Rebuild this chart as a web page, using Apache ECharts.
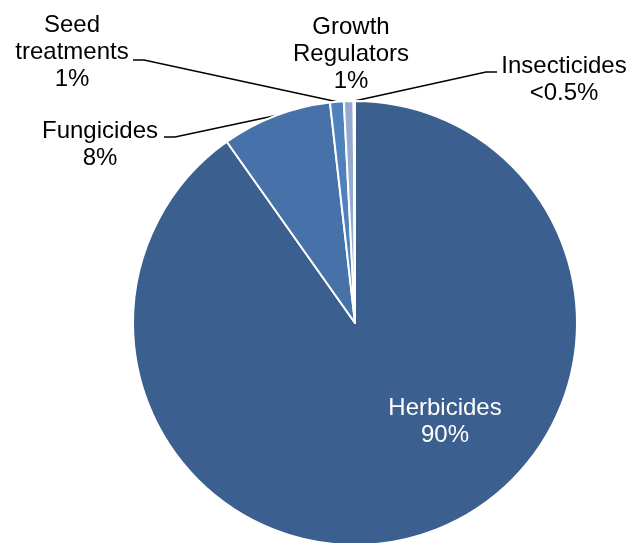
<!DOCTYPE html>
<html>
<head>
<meta charset="utf-8">
<script src="https://cdn.jsdelivr.net/npm/echarts@6/dist/echarts.min.js"></script>
<style>
html,body{margin:0;padding:0;background:#fff;}
#main{width:630px;height:543px;}
</style>
</head>
<body>
<div id="main"></div>
<script>
// ---- data ----
var categories = ['Herbicides', 'Fungicides', 'Seed treatments', 'Growth Regulators', 'Insecticides'];
var values = [90.2, 8.0, 1.0, 0.7, 0.1];
var labelTexts = ['Herbicides\n90%', 'Fungicides\n8%', 'Seed\ntreatments\n1%', 'Growth\nRegulators\n1%', 'Insecticides\n<0.5%'];

// ---- styles / layout ----
var colors = ['#3B5F8E', '#4672A9', '#4F81BD', '#95A9D1', '#B9C6E1'];
var labelPos = [
  {x: 445, y: 422},
  {x: 100, y: 145},
  {x: 72, y: 52},
  {x: 351, y: 54},
  {x: 564, y: 80}
];
// leader line: bend point then end point (null = no line)
var leader = [
  null,
  [[175, 137], [164, 137]],
  [[144, 60], [133, 60]],
  null,
  [[486, 72], [497, 72]]
];

var chart = echarts.init(document.getElementById('main'), null, {renderer: 'canvas'});
var data = categories.map(function (c, i) {
  var item = {
    name: c,
    value: values[i],
    itemStyle: {color: colors[i]},
    label: {formatter: labelTexts[i]},
    labelLine: {show: leader[i] !== null}
  };
  if (i === 0) {
    item.label.position = 'inside';
    item.label.color = '#FFFFFF';
  }
  return item;
});

chart.setOption({
  animation: false,
  backgroundColor: '#FFFFFF',
  series: [{
    type: 'pie',
    center: [355, 323],
    radius: [0, 222],
    startAngle: 90,
    clockwise: true,
    avoidLabelOverlap: false,
    data: data,
    itemStyle: {borderColor: '#FFFFFF', borderWidth: 2},
    label: {
      show: true,
      position: 'outside',
      fontFamily: 'Liberation Sans, Arial, sans-serif',
      fontSize: 24,
      lineHeight: 27,
      color: '#000000',
      align: 'center'
    },
    labelLine: {
      show: true,
      lineStyle: {color: '#000000', width: 1.5}
    },
    labelLayout: function (params) {
      var i = params.dataIndex;
      var out = {x: labelPos[i].x, y: labelPos[i].y, align: 'center', verticalAlign: 'middle'};
      if (leader[i] && params.labelLinePoints) {
        var p0 = params.labelLinePoints[0];
        out.labelLinePoints = [p0, leader[i][0], leader[i][1]];
      }
      return out;
    }
  }]
});
</script>
</body>
</html>
